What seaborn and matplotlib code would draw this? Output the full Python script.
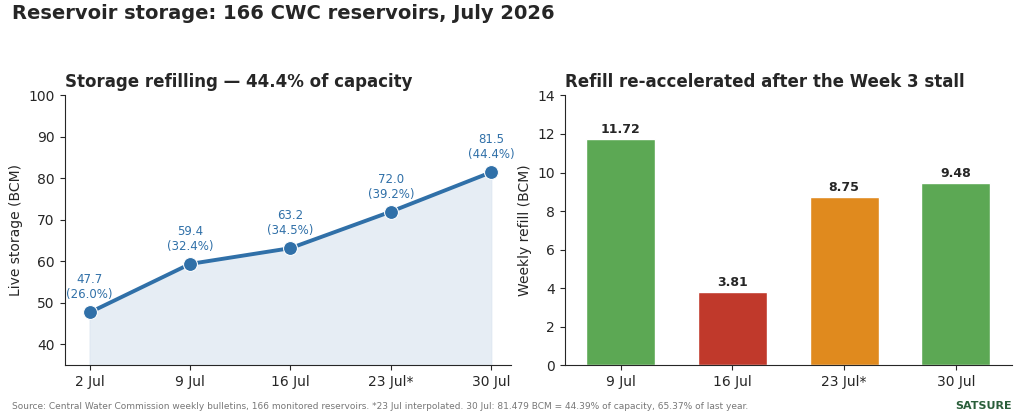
import numpy as np
import pandas as pd
import matplotlib
matplotlib.use("Agg")
import matplotlib.pyplot as plt
import seaborn as sns

weeks = ['2 Jul', '9 Jul', '16 Jul', '23 Jul*', '30 Jul']
storage = [47.7, 59.4, 63.2, 72.0, 81.5]
pct = [26.0, 32.4, 34.5, 39.2, 44.4]
refill_weeks = ['9 Jul', '16 Jul', '23 Jul*', '30 Jul']
refill = [11.72, 3.81, 8.75, 9.48]
refill_colors = ['#5ca854', '#c0392b', '#e08a1e', '#5ca854']

sns.set_style('ticks')
fig, (ax1, ax2) = plt.subplots(1, 2, figsize=(10.24, 4.15), dpi=100)
fig.subplots_adjust(left=0.063, right=0.988, top=0.77, bottom=0.12, wspace=0.12)

blue = '#3070a8'
x = np.arange(len(weeks))
ax1.fill_between(x, storage, 35, color='#dce6f0', alpha=0.7)
sns.lineplot(x=x, y=storage, ax=ax1, color=blue, lw=2.8, marker='o', markersize=10)
for xi, v, p in zip(x, storage, pct):
    ax1.annotate(f'{v:.1f}\n({p:.1f}%)', (xi, v), xytext=(0, 8), textcoords='offset points',
                 ha='center', va='bottom', color=blue, fontsize=8.5)
ax1.set_xticks(x)
ax1.set_xticklabels(weeks)
ax1.set_ylim(35, 100)
ax1.set_xlim(-0.25, 4.2)
ax1.set_ylabel('Live storage (BCM)', fontsize=10)
ax1.set_title('Storage refilling — 44.4% of capacity', fontsize=12, weight='bold', loc='left')

df = pd.DataFrame({'week': refill_weeks, 'refill': refill})
sns.barplot(data=df, x='week', y='refill', hue='week', palette=refill_colors, legend=False,
            ax=ax2, width=0.62, saturation=1)
for i, v in enumerate(refill):
    ax2.text(i, v + 0.15, f'{v:.2f}', ha='center', va='bottom', fontsize=9, weight='bold')
ax2.set_ylim(0, 14)
ax2.set_xlabel('')
ax2.set_ylabel('Weekly refill (BCM)', fontsize=10)
ax2.set_title('Refill re-accelerated after the Week 3 stall', fontsize=12, weight='bold', loc='left')

for ax in (ax1, ax2):
    sns.despine(ax=ax)

fig.text(0.012, 0.955, 'Reservoir storage: 166 CWC reservoirs, July 2026', fontsize=14, weight='bold')
fig.text(0.012, 0.015, 'Source: Central Water Commission weekly bulletins, 166 monitored reservoirs. *23 Jul interpolated. '
         '30 Jul: 81.479 BCM = 44.39% of capacity, 65.37% of last year.', fontsize=6.5, color='#777777')
fig.text(0.988, 0.015, 'SATSURE', fontsize=8, weight='bold', color='#2a5e3a', ha='right')
fig.savefig('out.png')
